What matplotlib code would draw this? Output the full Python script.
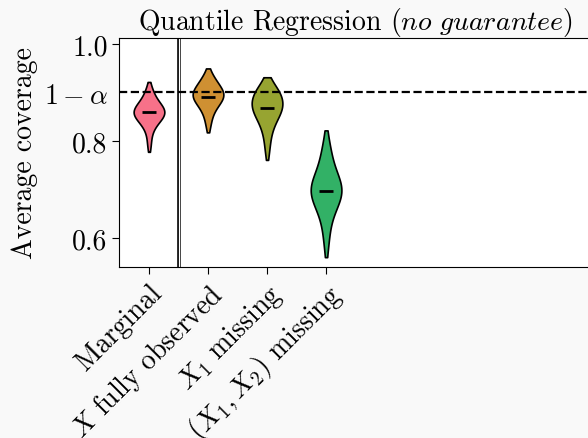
import matplotlib as mpl
mpl.use('Agg')
import matplotlib.pyplot as plt
import seaborn as sns
import numpy as np
import pandas as pd

categories = ['Marginal', r'$X$ fully observed', r'$X_1$ missing', r'$(X_1, X_2)$ missing']
colors = ['#f77189', '#cf9032', '#97a431', '#32b166']

# coverage values (per category)
cov_marginal = [0.792, 0.818, 0.832, 0.840, 0.845, 0.849, 0.852, 0.855, 0.857, 0.859,
                0.861, 0.863, 0.866, 0.869, 0.873, 0.878, 0.885, 0.895, 0.907]
cov_full = [0.832, 0.852, 0.864, 0.872, 0.878, 0.883, 0.887, 0.890, 0.892, 0.895,
            0.898, 0.901, 0.904, 0.908, 0.913, 0.919, 0.927, 0.935]
cov_x1 = [0.780, 0.808, 0.826, 0.838, 0.847, 0.854, 0.860, 0.865, 0.867, 0.870,
          0.874, 0.879, 0.884, 0.889, 0.894, 0.899, 0.904, 0.908, 0.912]
cov_x12 = [0.588, 0.625, 0.648, 0.664, 0.675, 0.683, 0.689, 0.694, 0.696, 0.699,
           0.703, 0.709, 0.716, 0.725, 0.737, 0.752, 0.772, 0.794]
medians = [0.859, 0.890, 0.867, 0.696]
target = 0.9

plt.rcParams['font.family'] = 'serif'
plt.rcParams['font.serif'] = ['cmr10']
plt.rcParams['mathtext.fontset'] = 'cm'
plt.rcParams['axes.unicode_minus'] = False

fig = plt.figure(figsize=(5.88, 4.39), dpi=100, facecolor='#f9f9f9')
ax = fig.add_axes([0.2032, 0.3895, 0.803, 0.5215])
ax.set_facecolor('white')

data = [cov_marginal, cov_full, cov_x1, cov_x12]
df = pd.DataFrame({
    'method': np.repeat(np.arange(len(data)), [len(d) for d in data]),
    'coverage': np.concatenate(data),
})
sns.violinplot(data=df, x='method', y='coverage', hue='method', palette=colors,
               legend=False, inner=None, width=0.52, density_norm='width',
               bw_adjust=1.1, cut=0.9, linewidth=1.2, linecolor='black',
               saturation=1, ax=ax)

pos = np.arange(len(data))
ax.hlines(medians, pos - 0.12, pos + 0.12, color='black', lw=2, zorder=3)
ax.axhline(target, color='black', ls='--', lw=1.6, zorder=4)
ax.axvline(0.5, color='black', lw=2.6, zorder=2)
ax.axvline(0.5, color='white', lw=0.9, zorder=2)

ax.set_xlim(-0.5, 7.5)
ax.set_ylim(0.54, 1.012)
ax.set_yticks([0.6, 0.8, target, 1.0])
ax.set_yticklabels(['0.6', '0.8', r'$1-\alpha$', '1.0'])
ax.yaxis.get_major_ticks()[2].tick1line.set_visible(False)
ax.set_xticks(pos)
ax.set_xticklabels(categories, rotation=45, ha='right', rotation_mode='anchor')
ax.set_xlabel('')
ax.tick_params(labelsize=20, length=5)
ax.set_ylabel('Average coverage', fontsize=20)
ax.set_title(r'Quantile Regression $\mathit{(no\ guarantee)}$', fontsize=20, pad=6)

plt.savefig('out.png', dpi=100, facecolor=fig.get_facecolor())
